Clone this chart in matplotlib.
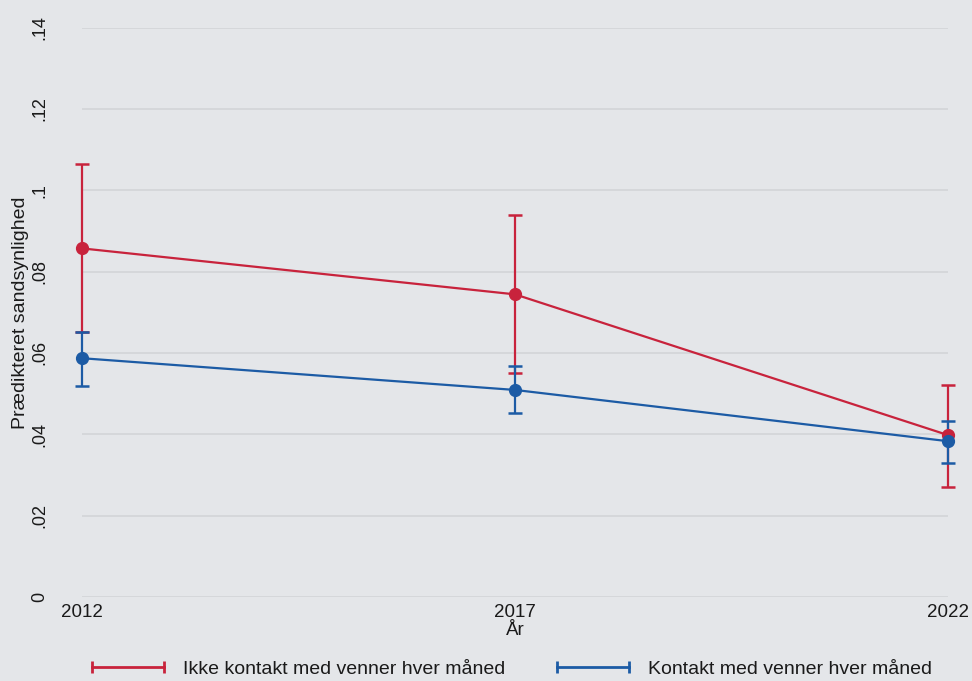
import matplotlib
matplotlib.use("Agg")
import matplotlib.pyplot as plt
from matplotlib.lines import Line2D

# Data: predicted probabilities with confidence intervals
years = [2012, 2017, 2022]
series_names = ["Ikke kontakt med venner hver måned", "Kontakt med venner hver måned"]
no_contact_est = [0.0857, 0.0744, 0.0398]
no_contact_lo = [0.0652, 0.0550, 0.0271]
no_contact_hi = [0.1064, 0.0939, 0.0521]
contact_est = [0.0587, 0.0509, 0.0383]
contact_lo = [0.0519, 0.0452, 0.0330]
contact_hi = [0.0652, 0.0569, 0.0433]
y_ticks = [0, 0.02, 0.04, 0.06, 0.08, 0.10, 0.12, 0.14]
y_tick_labels = ["0", ".02", ".04", ".06", ".08", ".1", ".12", ".14"]

RED = "#c8233c"
BLUE = "#1c5ba5"
BG = "#e4e6e9"
GRID = "#d2d4d7"
TXT = "#1a1a1a"
FONT = "Liberation Sans"

fig = plt.figure(figsize=(9.72, 6.81), dpi=100, facecolor=BG)
ax = fig.add_axes([82 / 972, 1 - 597 / 681, 866 / 972, 569.5 / 681])
ax.set_facecolor(BG)

for est, lo, hi, col in [(no_contact_est, no_contact_lo, no_contact_hi, RED),
                         (contact_est, contact_lo, contact_hi, BLUE)]:
    yerr = [[e - l for e, l in zip(est, lo)], [h - e for e, h in zip(est, hi)]]
    cont = ax.errorbar(years, est, yerr=yerr, color=col, lw=1.6, elinewidth=1.6,
                       capsize=5, capthick=1.8, marker="o", markersize=8.5,
                       zorder=3)
    cont.lines[0].set_clip_on(False)
    for art in list(cont.lines[1]) + list(cont.lines[2]):
        art.set_clip_on(False)

ax.set_xlim(2012, 2022)
ax.set_ylim(0, 0.14)
ax.set_xticks(years)
ax.set_xticklabels([str(y) for y in years], fontfamily=FONT, fontsize=13.5, color=TXT)
ax.set_yticks(y_ticks)
ax.set_yticklabels(y_tick_labels, rotation=90, va="center", fontfamily=FONT,
                   fontsize=13, color=TXT)
ax.tick_params(axis="x", length=0, pad=5)
ax.tick_params(axis="y", length=0, pad=24)
ax.grid(axis="y", color=GRID, lw=1.2)
ax.set_axisbelow(True)
for s in ax.spines.values():
    s.set_visible(False)

ax.set_xlabel("År", fontfamily=FONT, fontsize=13.5, color=TXT, labelpad=1)
ax.set_ylabel("Prædikteret sandsynlighed", fontfamily=FONT, fontsize=14,
              color=TXT, labelpad=2)

handles = [Line2D([], [], color=RED, lw=2, marker="|", markersize=9, mew=2),
           Line2D([], [], color=BLUE, lw=2, marker="|", markersize=9, mew=2)]
fig.legend(handles, series_names, loc="center", bbox_to_anchor=(509 / 972, 1 - 669 / 681),
           ncol=2, frameon=False, numpoints=2, handlelength=4.3, handletextpad=0.65,
           columnspacing=2.4, prop={"family": FONT, "size": 14},
           labelcolor=TXT)

fig.savefig("out.png", dpi=100, facecolor=BG)
